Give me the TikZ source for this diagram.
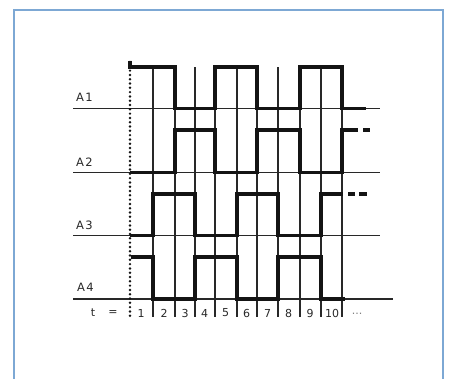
\documentclass[tikz,border=0pt]{standalone}
\usepackage{fontspec}
\setmainfont{DejaVu Sans}
\newfontfamily\labfont[LetterSpace=12]{DejaVu Sans}
\definecolor{framecol}{RGB}{125,168,212}
\definecolor{ink}{RGB}{20,20,20}
\definecolor{thinink}{RGB}{40,40,40}
\tikzset{
  thinline/.style={line width=1.1pt, draw=thinink},
  wave/.style={line width=3.2pt, draw=ink, line join=miter, line cap=butt},
  dotline/.style={line width=2.7pt, draw=ink, line cap=round, dash pattern=on 0pt off 4.3pt},
  lab/.style={font=\labfont\fontsize{11.5}{13}\selectfont, text=thinink, inner sep=0pt},
  num/.style={font=\fontsize{11}{13}\selectfont, text=thinink, inner sep=0pt},
  framebox/.style={line width=2pt, draw=framecol}
}
\begin{document}
\begin{tikzpicture}[x=1pt,y=-1pt]
\useasboundingbox (0,0) rectangle (450,378);
\clip (0,0) rectangle (450,378);
\fill[white] (0,0) rectangle (450,378);
% frame
\draw[framebox] (13.5,395) -- (13.5,10) -- (443,10) -- (443,395);
% baselines
\draw[thinline] (73,108.5) -- (380,108.5);
\draw[thinline] (73,172.5) -- (380,172.5);
\draw[thinline] (73,235.5) -- (380,235.5);
\draw[thinline] (73,299) -- (393,299);
% vertical grid lines
\foreach \gx in {153,175,195,215,237,257,278,300,321,342}
  \draw[thinline] (\gx,67) -- (\gx,317);
% dotted start line
\draw[dotline] (130,62) -- (130,319);
% A1
\draw[wave] (130,60.5) -- (130,67) -- (175,67) -- (175,108.5) -- (215,108.5) -- (215,67) -- (257,67) -- (257,108.5) -- (300,108.5) -- (300,67) -- (342,67) -- (342,108.5) -- (366,108.5);
% A2
\draw[wave] (130,172.5) -- (175,172.5) -- (175,130) -- (215,130) -- (215,172.5) -- (257,172.5) -- (257,130) -- (300,130) -- (300,172.5) -- (342,172.5) -- (342,130) -- (358,130);
\draw[wave] (363,130) -- (370,130);
% A3
\draw[wave] (130,235.5) -- (153,235.5) -- (153,194) -- (195,194) -- (195,235.5) -- (237,235.5) -- (237,194) -- (278,194) -- (278,235.5) -- (321,235.5) -- (321,194) -- (343,194);
\draw[wave] (348,194) -- (355,194);
\draw[wave] (359,194) -- (367,194);
% A4
\draw[wave] (131,257) -- (153,257) -- (153,299) -- (195,299) -- (195,257) -- (237,257) -- (237,299) -- (278,299) -- (278,257) -- (321,257) -- (321,299) -- (345,299);
% labels
\node[lab] (lA1) at (84.5,97.5) {A1};
\node[lab] (lA2) at (84.5,162) {A2};
\node[lab] (lA3) at (84.5,225) {A3};
\node[lab] (lA4) at (85.5,287.5) {A4};
% time row
\node[num] (tt) at (93,313) {t};
\node[num] (teq) at (113,313) {=};
\foreach \nx/\nt [count=\i] in {141/1,164/2,185/3,204.5/4,225.5/5,246.5/6,267.5/7,288.5/8,310/9,332/10}
  \node[num] (n\i) at (\nx,313) {\nt};
\node[num, text=gray] (dots) at (357,314) {...};
\end{tikzpicture}
\end{document}
